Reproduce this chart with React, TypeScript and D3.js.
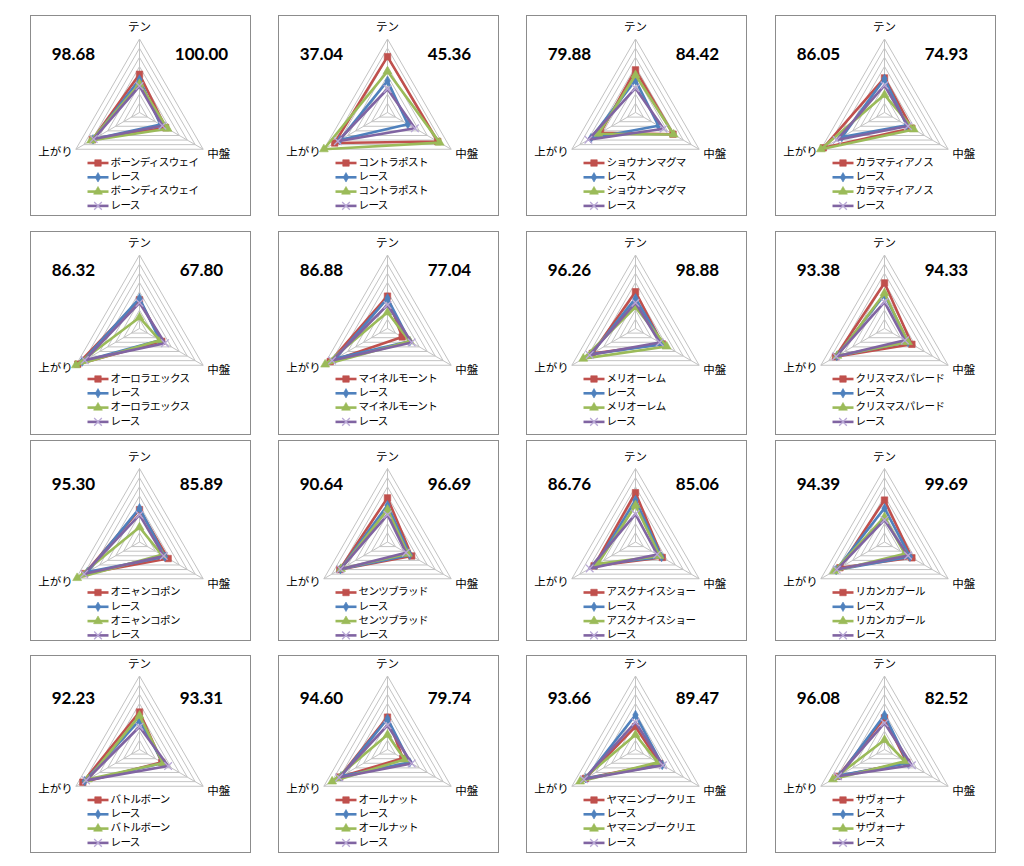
import React from 'react';
import * as d3 from 'd3';

// radar axes, clockwise from the top
const axes = ['テン', '中盤', '上がり'];

const horses = [
  'ボーンディスウェイ', 'コントラポスト', 'ショウナンマグマ', 'カラマティアノス',
  'オーロラエックス', 'マイネルモーント', 'メリオーレム', 'クリスマスパレード',
  'オニャンコポン', 'センツブラッド', 'アスクナイスショー', 'リカンカブール',
  'バトルボーン', 'オールナット', 'ヤマニンブークリエ', 'サヴォーナ',
];

const leftScores = [
  '98.68', '37.04', '79.88', '86.05', '86.32', '86.88', '96.26', '93.38',
  '95.30', '90.64', '86.76', '94.39', '92.23', '94.60', '93.66', '96.08',
];
const rightScores = [
  '100.00', '45.36', '84.42', '74.93', '67.80', '77.04', '98.88', '94.33',
  '85.89', '96.69', '85.06', '99.69', '93.31', '79.74', '89.47', '82.52',
];

// values per panel: [テン, 中盤, 上がり]  (percent of outer ring)
const horseRed = [
  [52, 41, 74], [76, 79, 83], [58, 59, 55], [47, 43, 96],
  [39, 35, 97], [44, 23, 90], [50, 42, 68], [62, 43, 77],
  [44, 45, 86], [60, 38, 75], [67, 42, 65], [57, 43, 70],
  [51, 35, 89], [44, 24, 75], [31, 38, 79], [43, 35, 73],
];
const raceBlue = [
  [45, 33, 73], [43, 32, 75], [44, 36, 70], [46, 35, 67],
  [41, 32, 90], [41, 35, 82], [41, 43, 70], [46, 37, 75],
  [46, 40, 82], [50, 35, 74], [57, 41, 62], [46, 40, 76],
  [40, 37, 86], [42, 35, 73], [47, 42, 78], [47, 37, 70],
];
const horseGreen = [
  [39, 44, 76], [56, 82, 100], [51, 60, 58], [24, 46, 100],
  [15, 32, 100], [22, 35, 98], [29, 49, 82], [48, 37, 74],
  [20, 35, 98], [44, 32, 73], [50, 38, 59], [34, 32, 79],
  [46, 37, 81], [20, 27, 87], [20, 35, 87], [13, 32, 81],
];
const racePurple = [
  [36, 36, 72], [32, 43, 78], [33, 44, 74], [37, 37, 75],
  [35, 40, 86], [32, 38, 87], [35, 38, 72], [36, 32, 76],
  [37, 38, 87], [37, 29, 74], [38, 34, 72], [30, 37, 75],
  [31, 45, 84], [33, 38, 76], [37, 43, 81], [36, 43, 73],
];

const seriesList = [
  { values: horseRed, label: 'horse', color: '#C0504D', marker: 'square' },
  { values: raceBlue, label: 'race', color: '#4F81BD', marker: 'diamond' },
  { values: horseGreen, label: 'horse', color: '#9BBB59', marker: 'triangle' },
  { values: racePurple, label: 'race', color: '#8064A2', marker: 'x' },
];

const colX = [30, 278, 526, 775];
const rowY = [15, 231, 440, 655];
const rowH = [200, 203, 200, 197];
const centerY = [112.5, 328.5, 542, 749.5];
const numberY = [56, 272, 486, 700];
const boxW = 220;
const R = 73.5;
const rings = d3.range(1, 9).map(k => k * 12.5);

const r = d3.scaleLinear().domain([0, 100]).range([0, R]);
const angle = d3.scalePoint().domain(axes).range([0, 240]);

const pt = (ax: string, v: number) => {
  const a = (angle(ax)! * Math.PI) / 180;
  return [Math.sin(a) * r(v), -Math.cos(a) * r(v)];
};

const radial = d3.lineRadial<number>()
  .angle((_, i) => (angle(axes[i])! * Math.PI) / 180)
  .radius(d => r(d))
  .curve(d3.curveLinearClosed);

const jp = '"Noto Sans CJK JP", "Noto Sans", sans-serif';

function Marker({ type, color, x, y }: { type: string; color: string; x: number; y: number }) {
  if (type === 'x') {
    const p = d3.symbol().type(d3.symbolX).size(40)();
    return <path d={p!} transform={`translate(${x},${y})`} fill="none" stroke="#B9A8D6" strokeWidth={1.3} />;
  }
  const sym = type === 'square' ? d3.symbolSquare : type === 'diamond' ? d3.symbolDiamond : d3.symbolTriangle;
  const size = type === 'square' ? 42 : type === 'diamond' ? 26 : 34;
  const p = d3.symbol().type(sym).size(size)();
  return <path d={p!} transform={`translate(${x},${y})`} fill={color} stroke={color} strokeWidth={0.6} />;
}

function Panel({ i }: { i: number }) {
  const col = i % 4;
  const row = Math.floor(i / 4);
  const bx = colX[col];
  const cx = bx + boxW / 2 - 0.5;
  const cy = centerY[row];
  const top = pt(axes[0], 100);
  const br = pt(axes[1], 100);
  const bl = pt(axes[2], 100);

  return (
    <g>
      <rect x={bx + 0.5} y={rowY[row] + 0.5} width={boxW} height={rowH[row]} fill="#fff" stroke="#8c8c8c" strokeWidth={1} />
      <g transform={`translate(${cx},${cy})`}>
        {rings.map(v => (
          <path key={v} d={radial(axes.map(() => v))!} fill="none" stroke="#c3c3c3" strokeWidth={1} />
        ))}
        {axes.map(ax => {
          const [x, y] = pt(ax, 100);
          return <line key={ax} x1={0} y1={0} x2={x} y2={y} stroke="#c3c3c3" strokeWidth={1} />;
        })}
        {seriesList.map((s, si) => (
          <g key={si}>
            <path d={radial(s.values[i])!} fill="none" stroke={s.color} strokeWidth={2.6} strokeLinejoin="round" />
            {s.values[i].map((v, k) => {
              const [x, y] = pt(axes[k], v);
              return <Marker key={k} type={s.marker} color={s.color} x={x} y={y} />;
            })}
          </g>
        ))}
        <text x={top[0]} y={top[1] - 11} textAnchor="middle" dominantBaseline="middle" fontSize={11.5} fontFamily={jp} fill="#000">{axes[0]}</text>
        <text x={br[0] + 4} y={br[1] + 6} textAnchor="start" dominantBaseline="middle" fontSize={11.5} fontFamily={jp} fill="#000">{axes[1]}</text>
        <text x={bl[0] - 3} y={bl[1] + 4} textAnchor="end" dominantBaseline="middle" fontSize={11.5} fontFamily={jp} fill="#000">{axes[2]}</text>
        {seriesList.map((s, si) => {
          const ly = 50.5 + si * 14.3;
          return (
            <g key={'lg' + si}>
              <line x1={-52} x2={-31} y1={ly} y2={ly} stroke={s.color} strokeWidth={2.6} />
              <Marker type={s.marker} color={s.color} x={-41.5} y={ly} />
              <text x={-29} y={ly} dominantBaseline="middle" fontSize={10.5} letterSpacing={-0.6} fontFamily={jp} fill="#000">
                {s.label === 'horse' ? horses[i] : 'レース'}
              </text>
            </g>
          );
        })}
      </g>
      <text x={cx - 66} y={numberY[row]} textAnchor="middle" dominantBaseline="middle" fontSize={17} fontWeight="bold" fontFamily="Lato, 'Open Sans', sans-serif" fill="#000">{leftScores[i]}</text>
      <text x={cx + 62} y={numberY[row]} textAnchor="middle" dominantBaseline="middle" fontSize={17} fontWeight="bold" fontFamily="Lato, 'Open Sans', sans-serif" fill="#000">{rightScores[i]}</text>
    </g>
  );
}

export default function App() {
  return (
    <div style={{ position: 'absolute', left: 0, top: 0 }}>
      <svg width={1024} height={866} style={{ display: 'block', background: '#fff' }}>
        {horses.map((_, i) => <Panel key={i} i={i} />)}
      </svg>
    </div>
  );
}
